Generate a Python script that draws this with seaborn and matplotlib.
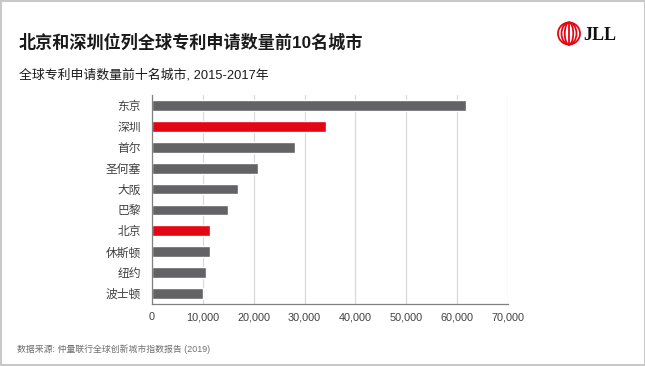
import matplotlib
matplotlib.use("Agg")
import matplotlib.pyplot as plt
from matplotlib.patches import Ellipse, Rectangle
import seaborn as sns
import pandas as pd

cities = ["东京", "深圳", "首尔", "圣何塞", "大阪", "巴黎", "北京", "休斯顿", "纽约", "波士顿"]
patents = [61700, 34200, 28200, 20800, 17000, 14900, 11500, 11500, 10600, 10000]
highlight = ["深圳", "北京"]
xticks = [0, 10000, 20000, 30000, 40000, 50000, 60000, 70000]
xtick_labels = ["0", "10,000", "20,000", "30,000", "40,000", "50,000", "60,000", "70,000"]

title = "北京和深圳位列全球专利申请数量前10名城市"
subtitle = "全球专利申请数量前十名城市, 2015-2017年"
source = "数据来源: 仲量联行全球创新城市指数报告 (2019)"

GRAY = "#636366"
RED = "#E30613"

sns.set_theme(style="white")
FAM = ["Liberation Sans", "Noto Sans CJK SC", "DejaVu Sans"]
plt.rcParams["font.family"] = FAM

df = pd.DataFrame({"city": cities, "value": patents})
palette = {c: (RED if c in highlight else GRAY) for c in cities}

fig = plt.figure(figsize=(6.45, 3.66), dpi=100)
fig.patch.set_facecolor("white")
ax = fig.add_axes([152 / 645, 1 - 304 / 366, 356 / 645, 209 / 366])

sns.barplot(data=df, x="value", y="city", hue="city", palette=palette,
            legend=False, width=0.52, ax=ax, saturation=1)

ax.set_xlim(0, 70000)
ax.set_xticks(xticks)
ax.set_xticklabels(xtick_labels, fontsize=7.8, color="#404040")
ax.set_xlabel("")
ax.set_ylabel("")
ax.tick_params(axis="y", labelsize=8.5, colors="#404040", length=0, pad=8)
ax.tick_params(axis="x", length=0, pad=6)
ax.set_axisbelow(True)
ax.grid(axis="x", color="#d9d9d9", linewidth=0.9)
ax.grid(axis="y", visible=False)
for s in ["top", "right"]:
    ax.spines[s].set_visible(False)
ax.spines["left"].set_color("#808080")
ax.spines["bottom"].set_color("#808080")
ax.spines["left"].set_linewidth(0.9)
ax.spines["bottom"].set_linewidth(0.9)

fig.text(19 / 645, 1 - 42 / 366, title, fontsize=12.3, fontweight="bold",
         color="#1a1a1a", va="center", ha="left", family=FAM)
fig.text(19 / 645, 1 - 75 / 366, subtitle, fontsize=9.3, color="#1a1a1a",
         va="center", ha="left", family=FAM)
fig.text(17 / 645, 1 - 349 / 366, source, fontsize=6.4, color="#6f6f6f",
         va="center", ha="left", family=FAM)

# JLL logo
lax = fig.add_axes([0, 0, 1, 1], zorder=5)
lax.set_xlim(0, 645)
lax.set_ylim(366, 0)
lax.axis("off")
for w in [22, 15, 8.5]:
    lax.add_patch(Ellipse((569, 33.5), w, 22, fill=False, edgecolor=RED, linewidth=1.3))
lax.plot([569, 569], [22.5, 44.5], color=RED, linewidth=1.3)
lax.text(583, 35, "JLL", fontsize=13, fontweight="bold", family="Liberation Serif",
         color="#111111", va="center", ha="left")
lax.add_patch(Rectangle((0.5, 0.5), 644, 364, fill=False, edgecolor="#c8c8c8", linewidth=1.5))

fig.savefig("out.png", dpi=100, facecolor="white")
